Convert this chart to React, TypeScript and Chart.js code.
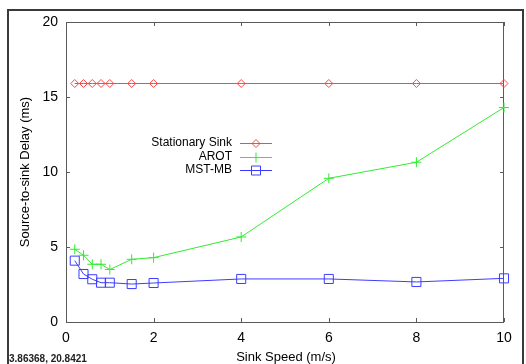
import React, { useEffect, useRef } from "react";
import { Chart, registerables } from "chart.js";

Chart.register(...registerables);

const speeds = [0.2, 0.4, 0.6, 0.8, 1, 1.5, 2, 4, 6, 8, 10];
const stationarySink = [15.9, 15.9, 15.9, 15.9, 15.9, 15.9, 15.9, 15.9, 15.9, 15.9, 15.9];
const arot = [4.85, 4.45, 3.85, 3.85, 3.5, 4.18, 4.29, 5.67, 9.58, 10.65, 14.3];
const mstMb = [4.09, 3.2, 2.85, 2.62, 2.62, 2.53, 2.6, 2.87, 2.87, 2.67, 2.91];
const seriesNames = ["Stationary Sink", "AROT", "MST-MB"];
const xTicks = [0, 2, 4, 6, 8, 10];
const yTicks = [0, 5, 10, 15, 20];
const xTitle = "Sink Speed (m/s)";
const yTitle = "Source-to-sink Delay (ms)";
const cursorText = "3.86368, 20.8421";

const FONT = "'Liberation Sans', Arial, sans-serif";
const RED = "rgb(255,70,70)";
const GREEN = "rgb(50,235,50)";
const BLUE = "rgb(60,60,255)";

function drawMarker(ctx: CanvasRenderingContext2D, kind: string, x: number, y: number, color: string) {
  ctx.save();
  ctx.strokeStyle = color;
  ctx.lineWidth = 1;
  ctx.beginPath();
  if (kind === "diamond") {
    const r = 4;
    ctx.moveTo(x, y - r);
    ctx.lineTo(x + r, y);
    ctx.lineTo(x, y + r);
    ctx.lineTo(x - r, y);
    ctx.closePath();
  } else if (kind === "plus") {
    const r = 5;
    ctx.moveTo(x - r, y);
    ctx.lineTo(x + r, y);
    ctx.moveTo(x, y - r);
    ctx.lineTo(x, y + r);
  } else {
    const r = 4.5;
    ctx.rect(x - r, y - r, 2 * r, 2 * r);
  }
  ctx.stroke();
  ctx.restore();
}

const decorPlugin = {
  id: "decor",
  beforeDatasetsDraw(chart: any) {
    const ctx: CanvasRenderingContext2D = chart.ctx;
    const { left, right, top, bottom } = chart.chartArea;
    const xs = chart.scales.x;
    const ys = chart.scales.y;
    ctx.save();
    // outer frame
    ctx.strokeStyle = "#3a3a3a";
    ctx.lineWidth = 2;
    ctx.strokeRect(8, 10, 515, 420);
    // plot border
    ctx.strokeStyle = "#5a5a5a";
    ctx.lineWidth = 1;
    ctx.strokeRect(left + 0.5, top + 0.5, right - left - 1, bottom - top);
    // inward ticks
    ctx.beginPath();
    for (const v of xTicks) {
      const px = Math.round(xs.getPixelForValue(v)) + 0.5;
      ctx.moveTo(px, bottom);
      ctx.lineTo(px, bottom - 4);
      ctx.moveTo(px, top);
      ctx.lineTo(px, top + 4);
    }
    for (const v of yTicks) {
      const py = Math.round(ys.getPixelForValue(v)) + 0.5;
      ctx.moveTo(left, py);
      ctx.lineTo(left + 4, py);
      ctx.moveTo(right, py);
      ctx.lineTo(right - 4, py);
    }
    ctx.stroke();
    ctx.restore();
  },
  afterDraw(chart: any) {
    const ctx: CanvasRenderingContext2D = chart.ctx;
    ctx.save();
    ctx.fillStyle = "#000";
    // axis titles
    ctx.font = `13px ${FONT}`;
    ctx.textAlign = "center";
    ctx.textBaseline = "middle";
    ctx.fillText(xTitle, 286, 357);
    ctx.save();
    ctx.translate(25, 172);
    ctx.rotate(-Math.PI / 2);
    ctx.fillText(yTitle, 0, 0);
    ctx.restore();
    // legend
    const kinds = ["diamond", "plus", "square"];
    const colors = [RED, GREEN, BLUE];
    const rows = [143, 156.5, 170];
    ctx.font = `12px ${FONT}`;
    ctx.textAlign = "right";
    ctx.textBaseline = "middle";
    for (let i = 0; i < seriesNames.length; i++) {
      ctx.fillStyle = "#000";
      ctx.fillText(seriesNames[i], 232, rows[i]);
      ctx.strokeStyle = colors[i];
      ctx.lineWidth = 1;
      ctx.beginPath();
      ctx.moveTo(240, Math.round(rows[i]) + 0.5);
      ctx.lineTo(272, Math.round(rows[i]) + 0.5);
      ctx.stroke();
      drawMarker(ctx, kinds[i], 256, Math.round(rows[i]) + 0.5, colors[i]);
    }
    // cursor coordinates
    ctx.fillStyle = "#222";
    ctx.font = `bold 10px ${FONT}`;
    ctx.textAlign = "left";
    ctx.textBaseline = "alphabetic";
    ctx.fillText(cursorText, 9, 362);
    ctx.restore();
  },
};

export default function App() {
  const ref = useRef<HTMLCanvasElement | null>(null);
  useEffect(() => {
    document.body.style.margin = "0";
    const canvas = ref.current!;
    const mk = (data: number[], color: string, style: any, radius: number) => ({
      data: speeds.map((x, i) => ({ x, y: data[i] })),
      borderColor: color,
      backgroundColor: "rgba(0,0,0,0)",
      borderWidth: 1,
      pointStyle: style,
      pointRadius: radius,
      pointBorderWidth: 1,
      pointBorderColor: color,
      pointBackgroundColor: "rgba(0,0,0,0)",
      tension: 0,
      clip: false,
    });
    const chart = new Chart(canvas, {
      type: "line",
      data: {
        datasets: [
          { label: seriesNames[0], ...mk(stationarySink, RED, "rectRot", 4) },
          { label: seriesNames[1], ...mk(arot, GREEN, "cross", 5) },
          { label: seriesNames[2], ...mk(mstMb, BLUE, "rect", 6.4) },
        ] as any,
      },
      options: {
        responsive: false,
        animation: false,
        devicePixelRatio: 1,
        layout: { padding: { top: 22, right: 22, left: 0, bottom: 0 } },
        plugins: { legend: { display: false }, tooltip: { enabled: false } },
        scales: {
          x: {
            type: "linear",
            min: 0,
            max: 10,
            afterFit: (s: any) => { s.height = 42; },
            afterBuildTicks: (s: any) => { s.ticks = xTicks.map((v) => ({ value: v })); },
            grid: { display: false, drawTicks: false },
            border: { display: false },
            ticks: { padding: 8, color: "#000", font: { size: 14, family: FONT } },
          },
          y: {
            type: "linear",
            min: 0,
            max: 20,
            afterFit: (s: any) => { s.width = 66; },
            afterBuildTicks: (s: any) => { s.ticks = yTicks.map((v) => ({ value: v })); },
            grid: { display: false, drawTicks: false },
            border: { display: false },
            ticks: { padding: 8, color: "#000", font: { size: 14, family: FONT } },
          },
        },
      } as any,
      plugins: [decorPlugin],
    });
    return () => chart.destroy();
  }, []);
  return (
    <div style={{ position: "fixed", left: 0, top: 0, width: 526, height: 364, background: "#fff" }}>
      <canvas ref={ref} width={526} height={364} style={{ width: 526, height: 364, display: "block" }} />
    </div>
  );
}
